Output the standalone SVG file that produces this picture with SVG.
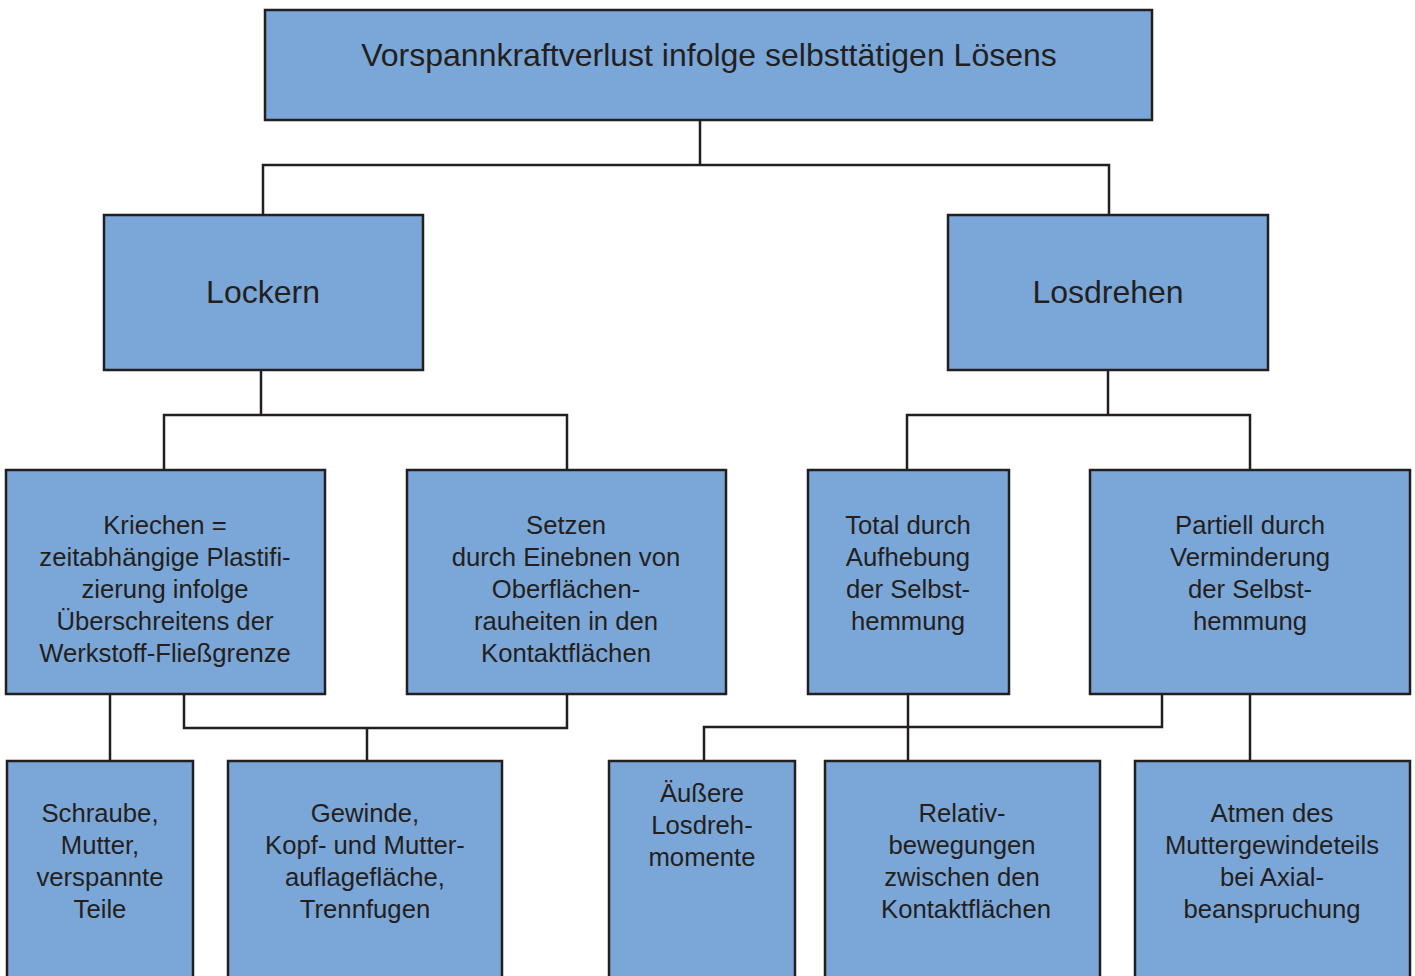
<svg xmlns="http://www.w3.org/2000/svg" width="1415" height="976" viewBox="0 0 1415 976">
<style>
.box{fill:#7BA7D8;stroke:#231F20;stroke-width:2.5}
.ln{fill:none;stroke:#231F20;stroke-width:2.5}
text{font-family:"Liberation Sans",Arial,sans-serif;fill:#231F20;text-anchor:middle}
.t1{font-size:32px}
.t2{font-size:25.7px}
</style>
<rect width="1415" height="976" fill="#ffffff"/>
<g id="connectors">
<polyline class="ln" points="700,120 700,165"/>
<polyline class="ln" points="263,215 263,165 1109,165 1109,215"/>
<polyline class="ln" points="261,370 261,415"/>
<polyline class="ln" points="164,470 164,415 567,415 567,470"/>
<polyline class="ln" points="1108,370 1108,415"/>
<polyline class="ln" points="907,470 907,415 1250,415 1250,470"/>
<polyline class="ln" points="110,694 110,761"/>
<polyline class="ln" points="184,694 184,728 567,728 567,694"/>
<polyline class="ln" points="367,728 367,761"/>
<polyline class="ln" points="908,694 908,761"/>
<polyline class="ln" points="704,761 704,727 1162,727 1162,694"/>
<polyline class="ln" points="1250,694 1250,761"/>
</g>
<g id="n-root">
<rect class="box" x="265" y="10" width="887" height="110"/>
<text class="t1" x="709" y="66">Vorspannkraftverlust infolge selbsttätigen Lösens</text>
</g>
<g id="n-lockern">
<rect class="box" x="104" y="215" width="319" height="155"/>
<text class="t1" x="263" y="303">Lockern</text>
</g>
<g id="n-losdrehen">
<rect class="box" x="948" y="215" width="320" height="155"/>
<text class="t1" x="1108" y="303">Losdrehen</text>
</g>
<g id="n-kriechen">
<rect class="box" x="6" y="470" width="319" height="224"/>
<text class="t2" x="165" y="534">Kriechen =</text>
<text class="t2" x="165" y="566">zeitabhängige Plastifi-</text>
<text class="t2" x="165" y="598">zierung infolge</text>
<text class="t2" x="165" y="630">Überschreitens der</text>
<text class="t2" x="165" y="662">Werkstoff-Fließgrenze</text>
</g>
<g id="n-setzen">
<rect class="box" x="407" y="470" width="319" height="224"/>
<text class="t2" x="566" y="534">Setzen</text>
<text class="t2" x="566" y="566">durch Einebnen von</text>
<text class="t2" x="566" y="598">Oberflächen-</text>
<text class="t2" x="566" y="630">rauheiten in den</text>
<text class="t2" x="566" y="662">Kontaktflächen</text>
</g>
<g id="n-total">
<rect class="box" x="808" y="470" width="201" height="224"/>
<text class="t2" x="908" y="534">Total durch</text>
<text class="t2" x="908" y="566">Aufhebung</text>
<text class="t2" x="908" y="598">der Selbst-</text>
<text class="t2" x="908" y="630">hemmung</text>
</g>
<g id="n-partiell">
<rect class="box" x="1090" y="470" width="320" height="224"/>
<text class="t2" x="1250" y="534">Partiell durch</text>
<text class="t2" x="1250" y="566">Verminderung</text>
<text class="t2" x="1250" y="598">der Selbst-</text>
<text class="t2" x="1250" y="630">hemmung</text>
</g>
<g id="n-schraube">
<rect class="box" x="7" y="761" width="186" height="240"/>
<text class="t2" x="100" y="822">Schraube,</text>
<text class="t2" x="100" y="854">Mutter,</text>
<text class="t2" x="100" y="886">verspannte</text>
<text class="t2" x="100" y="918">Teile</text>
</g>
<g id="n-gewinde">
<rect class="box" x="228" y="761" width="274" height="240"/>
<text class="t2" x="365" y="822">Gewinde,</text>
<text class="t2" x="365" y="854">Kopf- und Mutter-</text>
<text class="t2" x="365" y="886">auflagefläche,</text>
<text class="t2" x="365" y="918">Trennfugen</text>
</g>
<g id="n-aeussere">
<rect class="box" x="609" y="761" width="186" height="240"/>
<text class="t2" x="702" y="802">Äußere</text>
<text class="t2" x="702" y="834">Losdreh-</text>
<text class="t2" x="702" y="866">momente</text>
</g>
<g id="n-relativ">
<rect class="box" x="825" y="761" width="275" height="240"/>
<text class="t2" x="962" y="822">Relativ-</text>
<text class="t2" x="962" y="854">bewegungen</text>
<text class="t2" x="962" y="886">zwischen den</text>
<text class="t2" x="966" y="918">Kontaktflächen</text>
</g>
<g id="n-atmen">
<rect class="box" x="1135" y="761" width="275" height="240"/>
<text class="t2" x="1272" y="822">Atmen des</text>
<text class="t2" x="1272" y="854">Muttergewindeteils</text>
<text class="t2" x="1272" y="886">bei Axial-</text>
<text class="t2" x="1272" y="918">beanspruchung</text>
</g>
</svg>
